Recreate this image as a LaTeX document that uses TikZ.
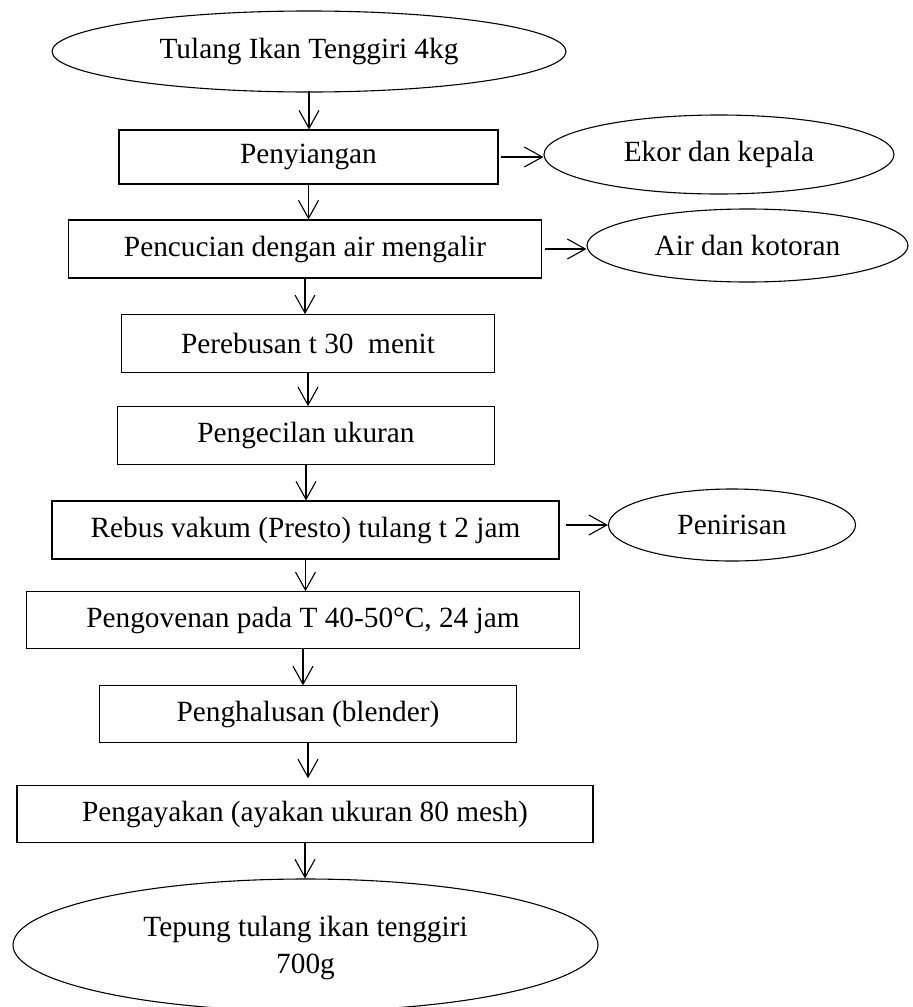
\documentclass[tikz,border=0pt]{standalone}
\usepackage{fontspec}
\setmainfont{Liberation Serif}
\usetikzlibrary{shapes.geometric,arrows.meta}
\begin{document}
\begin{tikzpicture}[x=1pt,y=-1pt,
  every node/.style={font=\fontsize{29.3}{37.6}\selectfont, inner sep=0pt, line width=1.1pt},
  procbox/.style 2 args={draw, rectangle, minimum width=#1, minimum height=#2},
  oval/.style 2 args={draw, ellipse, minimum width=#1, minimum height=#2},
  arr/.style={draw, line width=1.1pt, -{Straight Barb[length=18pt,width=20pt,line width=1.1pt]}}
]
\useasboundingbox (0,0) rectangle (913,1007);

\node[oval={514pt}{81pt}] (top) at (309,51.5) {Tulang Ikan Tenggiri 4kg};
\node[procbox={379pt}{54pt}] (peny) at (308.5,157) {Penyiangan};
\node[oval={350pt}{79pt}] (ekor) at (719,154.5) {Ekor dan kepala};
\node[procbox={473.5pt}{58pt}] (penc) at (305,249) {Pencucian dengan air mengalir};
\node[oval={321pt}{73pt}] (air) at (747.5,245.5) {Air dan kotoran};
\node[procbox={372.3pt}{58pt}] (pere) at (308,343.7) {Perebusan t 30~ menit};
\node[procbox={376.4pt}{58pt}] (peng) at (306,435.7) {Pengecilan ukuran};
\node[procbox={507pt}{58pt}] (rebus) at (305.5,530) {Rebus vakum (Presto) tulang t 2 jam};
\node[oval={247pt}{72pt}] (penir) at (732,525) {Penirisan};
\node[procbox={553.7pt}{57pt}] (oven) at (303,620.2) {Pengovenan pada T 40-50°C, 24 jam};
\node[procbox={416.5pt}{56.3pt}] (halus) at (308,714) {Penghalusan (blender)};
\node[procbox={576pt}{56.3pt}] (ayak) at (305,814) {Pengayakan (ayakan ukuran 80 mesh)};
\node[oval={585pt}{132pt}, align=center, text depth=0pt] (final) at (305.5,945) {Tepung tulang ikan tenggiri\\700g};

\draw[arr] ([yshift=2pt]top.south) -- (top.south |- peny.north);
\draw[arr] (peny.south) -- (peny.south |- penc.north);
\draw[arr] (penc.south) -- (penc.south |- pere.north);
\draw[arr] (pere.south) -- (pere.south |- peng.north);
\draw[arr] (peng.south) -- (peng.south |- rebus.north);
\draw[arr] (rebus.south) -- (rebus.south |- oven.north);
\draw[arr] (oven.south) -- (oven.south |- halus.north);
\draw[arr, shorten >=7pt] (halus.south) -- (halus.south |- ayak.north);
\draw[arr] (ayak.south) -- (ayak.south |- final.north);

\draw[arr, shorten <=2pt] (peny.east) -- (peny.east -| ekor.west);
\draw[arr, shorten <=3pt] (penc.east) -- (penc.east -| air.west);
\draw[arr, shorten <=6pt] (rebus.east |- penir.west) -- (penir.west);
\end{tikzpicture}
\end{document}
